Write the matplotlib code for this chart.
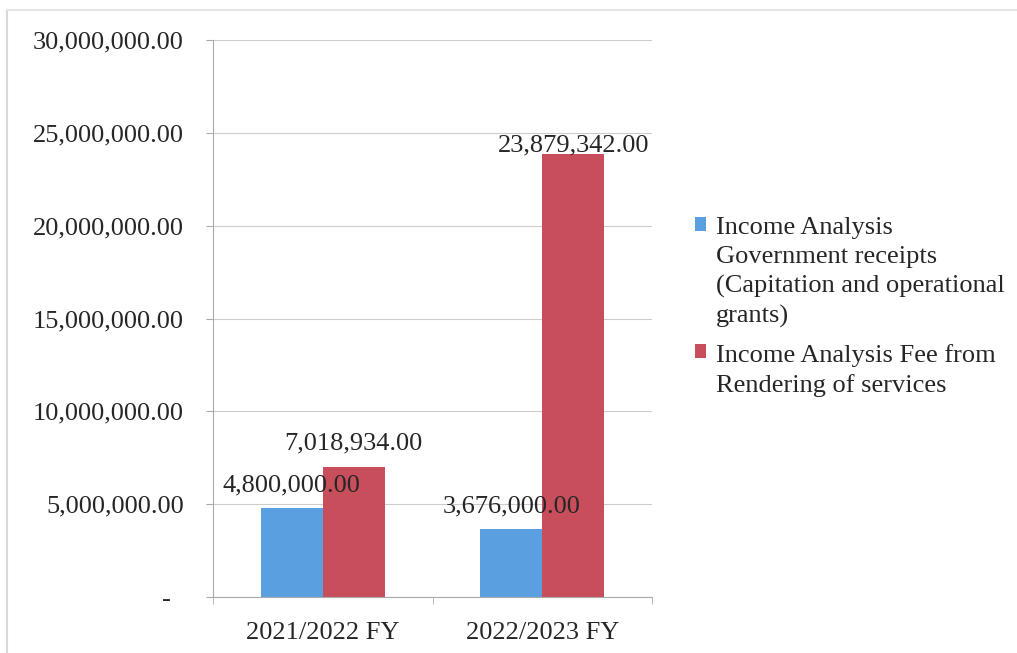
import matplotlib.pyplot as plt
import numpy as np
from matplotlib.lines import Line2D

# Data.
years = ['2021/2022 FY', '2022/2023 FY']
gov_receipts = [4800000.00, 3676000.00]
fee_services = [7018934.00, 23879342.00]
series_names = ['Income Analysis\nGovernment receipts\n(Capitation and operational\ngrants)',
                'Income Analysis Fee from\nRendering of services']

plt.rcParams['font.family'] = ['Liberation Serif', 'DejaVu Serif']
FS = 19
TXT = '#262626'

fig = plt.figure(figsize=(10.17, 6.53), dpi=100)
ax = fig.add_axes([213 / 1017, 56 / 653, 439 / 1017, 557 / 653])

x = np.arange(len(years))
w = 0.283
b1 = ax.bar(x - w / 2, gov_receipts, w, color='#5A9FE0', label=series_names[0])
b2 = ax.bar(x + w / 2, fee_services, w, color='#C84E5C', label=series_names[1])

# Value labels above each bar.
for bars, vals, offs in ((b1, gov_receipts, (8, 8)), (b2, fee_services, (9, -2))):
    for bar, v, off in zip(bars, vals, offs):
        ax.annotate(f'{v:,.2f}', (bar.get_x() + bar.get_width() / 2, v),
                    xytext=(0, off), textcoords='offset points',
                    ha='center', va='bottom', fontsize=FS, color=TXT)

ax.set_xlim(-0.5, 1.5)
ax.set_ylim(0, 30000000)
ticks = np.arange(0, 30000001, 5000000)
ax.set_yticks(ticks)
ax.set_yticklabels(['-  '] + [f'{v:,.2f}' for v in ticks[1:]])
ax.set_xticks(x)
ax.set_xticklabels(years)
ax.set_xticks([-0.5, 0.5, 1.5], minor=True)
ax.tick_params(axis='x', which='major', length=0, pad=18, labelsize=FS, colors=TXT)
ax.tick_params(axis='x', which='minor', length=5, color='#aaaaaa')
ax.tick_params(axis='y', length=5, color='#aaaaaa', pad=16, labelsize=FS, colors=TXT)

ax.yaxis.grid(True, color='#cccccc', linewidth=0.8)
ax.set_axisbelow(True)
for s in ('top', 'right'):
    ax.spines[s].set_visible(False)
ax.spines['left'].set_color('#aaaaaa')
ax.spines['bottom'].set_color('#aaaaaa')

leg = ax.legend(loc='upper left', bbox_to_anchor=(682 / 1017, 1 - 204 / 653),
                bbox_transform=fig.transFigure, frameon=False, fontsize=FS,
                handlelength=0.42, handleheight=0.42, handletextpad=0.35,
                labelspacing=0.6, labelcolor=TXT, borderpad=0)
for t in leg.get_texts():
    t.set_linespacing(1.4)
# put the colour squares next to the first line of each entry
for col in leg._legend_handle_box.get_children():
    for hp in col.get_children():
        hp.align = 'top'

# Thin border lines at the top and left edge of the picture.
fig.add_artist(Line2D([7 / 1017, 7 / 1017], [0, 1 - 10 / 653],
                      transform=fig.transFigure, color='#d8d8d8', linewidth=1.5))
fig.add_artist(Line2D([7 / 1017, 1], [1 - 10 / 653, 1 - 10 / 653],
                      transform=fig.transFigure, color='#e4e4e4', linewidth=1.5))

fig.savefig('out.png', dpi=100)
